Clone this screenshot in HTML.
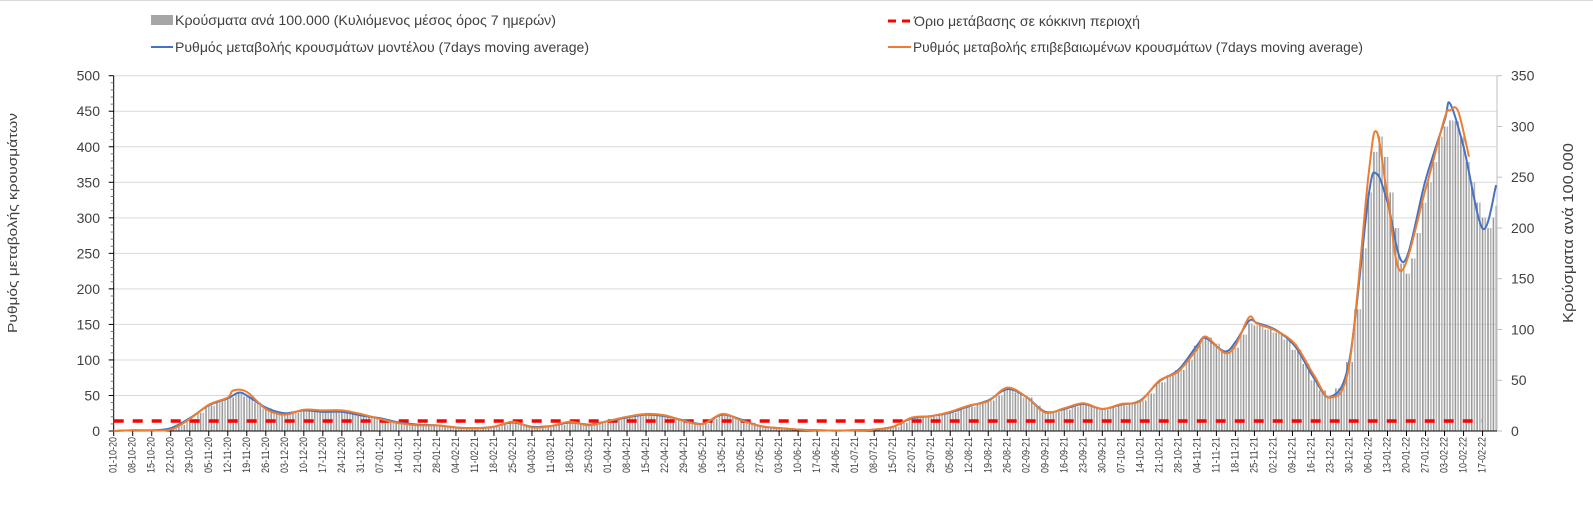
<!DOCTYPE html>
<html><head><meta charset="utf-8">
<style>
html,body{margin:0;padding:0;background:#fff;}
svg{display:block;font-family:"Liberation Sans",Arial,sans-serif;}
</style></head>
<body>
<svg id="chart" width="1593" height="512" viewBox="0 0 1593 512" xmlns="http://www.w3.org/2000/svg">
<line x1="0" y1="0.5" x2="1593" y2="0.5" stroke="#d9d9d9"/>
<g id="legend">
  <g>
    <rect x="151" y="15" width="22" height="10" fill="#a6a6a6"/>
    <text x="175" y="25" font-size="14" fill="#404040" textLength="381" lengthAdjust="spacingAndGlyphs">Κρούσματα ανά 100.000 (Κυλιόμενος μέσος όρος 7 ημερών)</text>
  </g>
  <g>
    <line x1="151" y1="47" x2="173" y2="47" stroke="#4472c4" stroke-width="2"/>
    <text x="175" y="52" font-size="14" fill="#404040" textLength="414" lengthAdjust="spacingAndGlyphs">Ρυθμός μεταβολής κρουσμάτων μοντέλου (7days moving average)</text>
  </g>
  <g>
    <line x1="888" y1="21" x2="912" y2="21" stroke="#ff0000" stroke-width="3" stroke-dasharray="8,6"/>
    <text x="914" y="26" font-size="14" fill="#404040" textLength="226" lengthAdjust="spacingAndGlyphs">Όριο μετάβασης σε κόκκινη περιοχή</text>
  </g>
  <g>
    <line x1="888" y1="47" x2="911" y2="47" stroke="#ed7d31" stroke-width="2"/>
    <text x="913" y="52" font-size="14" fill="#404040" textLength="450" lengthAdjust="spacingAndGlyphs">Ρυθμός μεταβολής επιβεβαιωμένων κρουσμάτων (7days moving average)</text>
  </g>
</g>
<text transform="translate(17,223) rotate(-90)" text-anchor="middle" font-size="13" fill="#404040" textLength="220" lengthAdjust="spacingAndGlyphs">Ρυθμός μεταβολής κρουσμάτων</text>
<text transform="translate(1573,233) rotate(-90)" text-anchor="middle" font-size="15" fill="#404040" textLength="180" lengthAdjust="spacingAndGlyphs">Κρούσματα ανά 100.000</text>
<g id="grid"></g>
<g id="bars"></g>
<g id="axes"></g>
<g id="lines"></g>
</svg>
<script>
// ---- data ----
const startDate = [2020, 9, 1];
const weekLabelCount = 73;
const thresholdLeft = 14;
const leftTicks = [0, 50, 100, 150, 200, 250, 300, 350, 400, 450, 500];
const rightTicks = [0, 50, 100, 150, 200, 250, 300, 350];
const blueDays = [0,7,14,21,28,35,42,46,49,56,63,70,77,84,91,98,105,112,119,126,133,140,147,154,161,168,175,182,189,196,203,210,217,224,231,238,245,252,259,266,273,280,287,294,301,308,315,322,329,336,343,350,357,364,371,378,385,392,399,402,409,413,418,421,428,435,442,448,455,462,465,469,475,483,490,492,497,504,509];
const blueVals = [0,1,1,4,18,36,46,54,50,33,25,29,27,27,22,18,12,9,8,5,4,6,12,6,7,12,9,14,19,23,21,15,10,23,16,7,4,2,1,0.5,1,2,6,18,21,26,35,43,59,48,27,31,38,31,37,43,70,86,121,131,112,125,155,152,142,119,74,48,100,330,362,322,238,353,437,461,400,285,346];
const orangeDays = [0,7,14,21,28,35,42,44,49,56,63,70,77,84,91,98,105,112,119,126,133,140,147,154,161,168,175,182,189,196,203,210,217,224,231,238,245,252,259,266,273,280,287,294,301,308,315,322,329,336,343,350,357,364,371,378,385,392,399,402,409,413,418,421,428,435,442,448,455,462,465,469,474,483,490,492,495,499];
const orangeVals = [0,1,1,2,17,37,47,57,55,31,23,30,29,29,24,17,11,8,8,5,4,6,13,5,7,13,8,14,20,24,22,14,10,24,15,7,4,2,1,0.5,1,2,6,19,21,27,36,42,61,48,26,32,39,31,38,42,71,84,116,133,110,120,160,151,141,122,78,47,95,360,421,330,225,340,440,451,450,386];
const barDays = [0,4,7,11,14,18,21,25,28,32,35,39,42,46,49,53,56,60,63,67,70,74,77,81,84,88,91,95,98,102,105,109,112,116,119,123,126,130,133,137,140,144,147,151,154,158,161,165,168,172,175,179,182,186,189,193,196,200,203,207,210,214,217,221,224,228,231,235,238,242,245,252,259,266,273,280,284,287,291,294,298,301,305,308,312,315,319,322,326,329,333,336,340,343,347,350,354,357,361,364,368,371,375,378,382,385,389,392,396,399,402,406,409,413,416,418,421,425,428,432,435,439,442,445,448,451,455,458,460,462,464,466,468,470,472,474,476,478,480,482,484,486,488,490,492,494,496,498,500,502,504,506,508,509];
const barVals = [0,0.3,0.5,0.5,0.5,1,3,6,12,18,25,29,33,37,34,28,22,19,17,18,20,20,19,19,19,18,15,14,12,10,8,7,6,6,6,5,3,3,3,3,4,6,8,6,4,4,5,6,8,7,6,8,10,11,13,15,16,16,15,12,10,8,7,12,16,14,11,8,5,4,3,1.5,0.7,0.4,0.7,1.5,2.5,4,8,13,14,14,16,18,21,24,27,30,35,41,38,33,25,18,19,21,24,26,24,21,23,25,27,30,37,48,55,60,70,84,92,86,78,82,95,106,104,100,97,90,80,66,50,40,33,42,68,120,180,235,275,290,270,235,200,165,155,170,195,225,245,265,290,300,306,305,290,265,245,225,210,200,210,222];

// ---- scales ----
const X0 = 113.7, PXDAY = 2.716, XR = 1497, Y0 = 431, YTOP = 75.7;
const xs = d => X0 + d * PXDAY;
const yL = v => Y0 - v * (Y0 - YTOP) / 500;
const yR = v => Y0 - v * (Y0 - YTOP) / 350;
const NS = 'http://www.w3.org/2000/svg';
function mk(tag, attrs, parent) {
  const e = document.createElementNS(NS, tag);
  for (const k in attrs) e.setAttribute(k, attrs[k]);
  parent.appendChild(e);
  return e;
}
const grid = document.getElementById('grid');
const bars = document.getElementById('bars');
const axes = document.getElementById('axes');
const lines = document.getElementById('lines');

leftTicks.forEach(v => {
  if (v === 0) return;
  const g = mk('line', {x1: X0, x2: XR, y1: yL(v), y2: yL(v), stroke: '#d9d9d9', 'stroke-width': 1}, grid);
  
  
});

// bars: one per day, height from nearest sample
const lastDay = Math.floor((XR - X0) / PXDAY);
for (let d = 0; d <= lastDay; d++) {
  let best = 0;
  for (let i = 0; i < barDays.length; i++) if (Math.abs(barDays[i] - d) < Math.abs(barDays[best] - d)) best = i;
  const v = barVals[best];
  const b = mk('rect', {x: xs(d) - 0.8, y: yR(v), width: 1.6, height: Y0 - yR(v), fill: d % 2 ? '#b4b4b4' : '#9a9a9a'}, bars);
  
  
}

// threshold line
const th = mk('line', {x1: X0, x2: 1482, y1: yL(thresholdLeft), y2: yL(thresholdLeft), stroke: '#ff0000', 'stroke-width': 3.5, 'stroke-dasharray': '10,9'}, lines);



// axes
const la = mk('line', {x1: X0, x2: X0, y1: YTOP, y2: Y0, stroke: '#000', 'stroke-width': 1}, axes);


for (let v = 0; v <= 500; v += 10) {
  const major = v % 50 === 0;
  const t = mk('line', {x1: X0 - (major ? 5 : 3), x2: X0, y1: yL(v), y2: yL(v), stroke: major ? '#000' : '#777', 'stroke-width': 1}, axes);
  
  
}
leftTicks.forEach(v => {
  const t = mk('text', {x: 100, y: yL(v) + 5, 'text-anchor': 'end', 'font-size': 14, fill: '#404040'}, axes);
  t.textContent = v;
  
  
});
const ra = mk('line', {x1: XR, x2: XR, y1: YTOP, y2: Y0, stroke: '#bfbfbf', 'stroke-width': 1}, axes);


rightTicks.forEach(v => {
  const tk = mk('line', {x1: XR, x2: XR + 5, y1: yR(v), y2: yR(v), stroke: '#bfbfbf'}, axes);
  
  
  const t = mk('text', {x: 1511, y: yR(v) + 5, 'font-size': 14, fill: '#404040'}, axes);
  t.textContent = v;
  
  
});
const xa = mk('line', {x1: X0, x2: XR, y1: Y0, y2: Y0, stroke: '#000', 'stroke-width': 1}, axes);


const pad = n => (n < 10 ? '0' : '') + n;
for (let w = 0; w < weekLabelCount; w++) {
  const dt = new Date(Date.UTC(startDate[0], startDate[1], startDate[2] + w * 7));
  const lbl = pad(dt.getUTCDate()) + '-' + pad(dt.getUTCMonth() + 1) + '-' + String(dt.getUTCFullYear()).slice(2);
  const x = xs(w * 7);
  const tk = mk('line', {x1: x, x2: x, y1: Y0, y2: Y0 + 5, stroke: '#000'}, axes);
  
  
  const t = mk('text', {transform: 'translate(' + (x + 3) + ',473) rotate(-90)', 'font-size': 11, fill: '#404040', textLength: 36, lengthAdjust: 'spacingAndGlyphs'}, axes);
  t.textContent = lbl;
  
  
}

// smooth line
function path(days, vals) {
  const p = days.map((d, i) => [xs(d), yL(vals[i])]);
  let s = 'M' + p[0][0] + ',' + p[0][1];
  for (let i = 0; i < p.length - 1; i++) {
    const a = p[i - 1] || p[i], b = p[i], c = p[i + 1], e = p[i + 2] || c;
    const c1 = [b[0] + (c[0] - a[0]) / 6, b[1] + (c[1] - a[1]) / 6];
    const c2 = [c[0] - (e[0] - b[0]) / 6, c[1] - (e[1] - b[1]) / 6];
    s += ' C' + c1[0] + ',' + c1[1] + ' ' + c2[0] + ',' + c2[1] + ' ' + c[0] + ',' + c[1];
  }
  return s;
}
const bl = mk('path', {d: path(blueDays, blueVals), fill: 'none', stroke: '#4472c4', 'stroke-width': 2}, lines);


const ol = mk('path', {d: path(orangeDays, orangeVals), fill: 'none', stroke: '#ed7d31', 'stroke-width': 2}, lines);


</script>
</body></html>
